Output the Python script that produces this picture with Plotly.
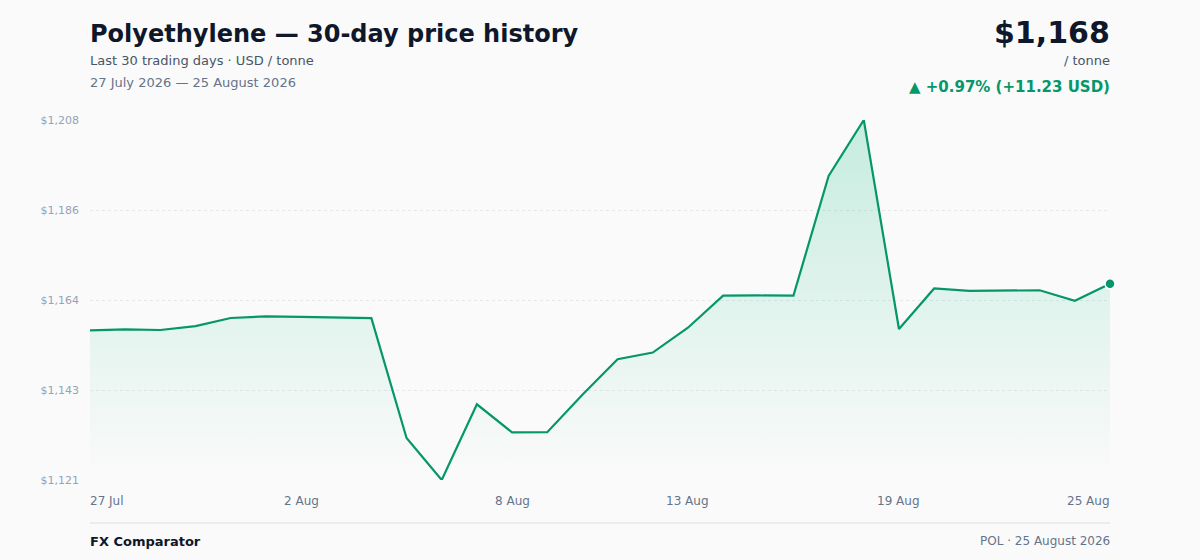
import pandas as pd
import plotly.graph_objects as go

dates = pd.date_range("2026-07-27", "2026-08-25", freq="D")
prices = [1157.17, 1157.40, 1157.25, 1158.20, 1160.15, 1160.55, 1160.40, 1160.30, 1160.10, 1131.15,
          1121.00, 1139.30, 1132.50, 1132.55, 1141.60, 1150.20, 1151.80, 1157.80, 1165.55, 1165.60,
          1165.55, 1194.50, 1208.00, 1157.50, 1167.30, 1166.70, 1166.85, 1166.85, 1164.30, 1168.40]
x_tick_dates = ["2026-07-27", "2026-08-02", "2026-08-08", "2026-08-13", "2026-08-19", "2026-08-25"]
x_tick_labels = ["27 Jul", "2 Aug", "8 Aug", "13 Aug", "19 Aug", "25 Aug"]

ymin, ymax = min(prices), max(prices)
y_ticks = [ymin + (ymax - ymin) * k / 4 for k in range(5)]
y_tick_labels = ["${:,.0f}".format(v) for v in y_ticks]

GREEN = "#059669"
FONT = "DejaVu Sans"
BG = "#fafafa"

fig = go.Figure()
fig.add_trace(go.Scatter(x=list(dates), y=[ymin] * len(prices), mode="lines",
                         line=dict(width=0), hoverinfo="skip", showlegend=False))
fig.add_trace(go.Scatter(
    x=list(dates), y=prices, mode="lines", fill="tonexty",
    line=dict(color=GREEN, width=2.2),
    fillgradient=dict(type="vertical",
                      colorscale=[[0, "rgba(16,185,129,0.0)"], [0.1, "rgba(16,185,129,0.02)"],
                                  [1, "rgba(16,185,129,0.22)"]]),
    showlegend=False))
fig.add_trace(go.Scatter(x=[dates[-1]], y=[prices[-1]], mode="markers",
                         marker=dict(color=GREEN, size=10, line=dict(color="white", width=1.5)),
                         showlegend=False, cliponaxis=False))

fig.update_layout(
    width=1200, height=560,
    margin=dict(l=90, r=90, t=120, b=80),
    paper_bgcolor=BG, plot_bgcolor=BG,
    font=dict(family=FONT, color="#0f172a"),
    showlegend=False,
    xaxis=dict(range=[dates[0], dates[-1]], showgrid=False, zeroline=False,
               showticklabels=False, showline=False, ticks=""),
    yaxis=dict(range=[ymin, ymax], tickvals=y_ticks, ticktext=y_tick_labels,
               showgrid=True, gridcolor="#e5e7eb", griddash="dot", gridwidth=1,
               zeroline=False, showline=False, ticks="", ticklabelstandoff=10,
               tickfont=dict(family=FONT, size=11, color="#94a3b8")),
)

def ypx(py):
    return (480 - py) / 360

SHIFT = {"left": -2, "right": 2, "center": 0}

anns = []
for d, lab in zip(x_tick_dates, x_tick_labels):
    if d == x_tick_dates[0]:
        xa = "left"
    elif d == x_tick_dates[-1]:
        xa = "right"
    else:
        xa = "center"
    anns.append(dict(x=d, xref="x", y=ypx(501), yref="paper", text=lab, showarrow=False,
                     xanchor=xa, yanchor="middle", font=dict(family=FONT, size=12, color="#64748b")))

anns += [
    dict(x=0, y=ypx(34), text="<b>Polyethylene — 30-day price history</b>", xanchor="left",
         font=dict(size=24, color="#0f172a")),
    dict(x=0, y=ypx(61), text="Last 30 trading days · USD / tonne", xanchor="left",
         font=dict(size=13, color="#475569")),
    dict(x=0, y=ypx(83), text="27 July 2026 — 25 August 2026", xanchor="left",
         font=dict(size=13, color="#64748b")),
    dict(x=1, y=ypx(32), text="<b>${:,.0f}</b>".format(prices[-1]), xanchor="right",
         font=dict(size=30, color="#0f172a")),
    dict(x=1, y=ypx(61), text="/ tonne", xanchor="right",
         font=dict(size=13, color="#475569")),
    dict(x=1, y=ypx(87), text="<b>▲ +{:.2f}% (+{:.2f} USD)</b>".format(
        (prices[-1] - prices[0]) / prices[0] * 100, prices[-1] - prices[0]), xanchor="right",
         font=dict(size=15, color=GREEN)),
    dict(x=0, y=ypx(541), text="<b>FX Comparator</b>", xanchor="left",
         font=dict(size=13, color="#0f172a")),
    dict(x=1, y=ypx(541), text="POL · 25 August 2026", xanchor="right",
         font=dict(size=12, color="#64748b")),
]
for a in anns:
    a.setdefault("xref", "paper")
    a.setdefault("yref", "paper")
    a.setdefault("showarrow", False)
    a.setdefault("yanchor", "middle")
    a["font"].setdefault("family", FONT)
    a["xshift"] = SHIFT[a["xanchor"]]
fig.update_layout(annotations=anns)

fig.add_shape(type="line", xref="paper", yref="paper", x0=0, x1=1, y0=ypx(523), y1=ypx(523),
              line=dict(color="#e5e7eb", width=1.5))

fig.write_html("out.html", config={"displayModeBar": False},
               post_script="document.body.style.margin='0';document.body.style.background='#fafafa';")
